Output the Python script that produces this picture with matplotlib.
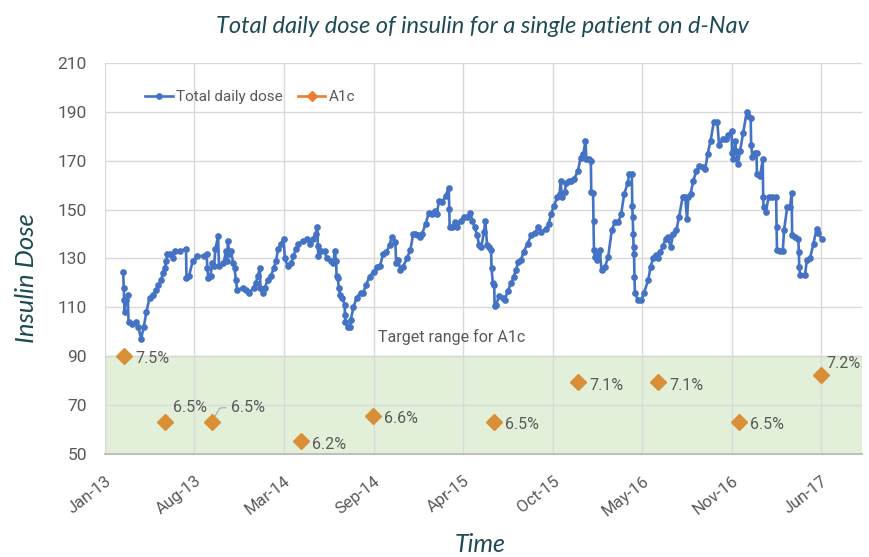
import matplotlib
matplotlib.use("Agg")
import matplotlib.pyplot as plt
import matplotlib.dates as mdates
from matplotlib.lines import Line2D
import numpy as np

# ── data ────────────────────────────────────────────────────────────────────
# days since 2013-01-01 and total daily insulin dose
tdd_day = [
    63, 64, 65, 66, 69, 73, 75, 82, 92, 97, 103, 109, 115, 122, 130, 137, 142, 148,
    152, 156, 160, 162, 169, 175, 180, 191, 204, 205, 211, 219, 229, 244, 250, 252,
    254, 259, 263, 267, 270, 276, 278, 288, 294, 296, 298, 301, 305, 310, 313, 316,
    319, 331, 339, 346, 356, 361, 365, 370, 371, 376, 381, 387, 395, 401, 406, 411,
    417, 423, 426, 432, 440, 445, 451, 456, 466, 476, 483, 489, 495, 499, 500, 501,
    508, 515, 520, 529, 535, 538, 541, 542, 545, 547, 550, 555, 560, 561, 562, 568,
    572, 574, 580, 587, 596, 602, 608, 616, 625, 633, 640, 646, 654, 661, 666, 674,
    676, 681, 685, 691, 700, 708, 714, 719, 724, 730, 734, 742, 749, 757, 762, 767,
    772, 779, 787, 794, 795, 796, 802, 807, 813, 821, 828, 836, 842, 847, 852, 858,
    862, 867, 873, 876, 880, 885, 889, 890, 893, 896, 897, 900, 907, 915, 920, 926,
    934, 940, 945, 950, 956, 962, 971, 979, 988, 994, 1002, 1013, 1018, 1024, 1030,
    1038, 1043, 1045, 1048, 1054, 1058, 1063, 1069, 1075, 1084, 1090, 1096, 1101,
    1103, 1108, 1113, 1114, 1118, 1119, 1120, 1122, 1126, 1130, 1133, 1137, 1145,
    1152, 1160, 1167, 1175, 1181, 1188, 1196, 1199, 1205, 1206, 1207, 1208, 1209,
    1210, 1211, 1212, 1219, 1226, 1232, 1242, 1247, 1253, 1259, 1264, 1269, 1275,
    1281, 1286, 1292, 1298, 1305, 1311, 1319, 1325, 1329, 1332, 1337, 1343, 1350,
    1356, 1365, 1370, 1375, 1382, 1389, 1397, 1401, 1409, 1416, 1422, 1429, 1430,
    1433, 1437, 1439, 1443, 1448, 1455, 1463, 1467, 1472, 1473, 1476, 1482, 1485,
    1486, 1493, 1499, 1500, 1501, 1506, 1512, 1519, 1529, 1530, 1531, 1538, 1544,
    1547, 1554, 1560, 1564, 1565, 1572, 1579, 1580, 1581, 1583, 1594, 1598, 1605,
    1613, 1620, 1624, 1631,
]
tdd_value = [
    124.5, 118, 113, 108, 113, 115, 104, 103, 104, 102, 97, 102, 108, 114, 115, 117, 119, 121,
    124, 126, 129, 132, 132, 130, 133, 133, 134, 122, 123, 129, 131, 131, 132, 126,
    122, 123, 128, 127, 134, 139, 127, 128, 133, 129, 137, 132, 133, 128, 126, 121,
    117, 118, 117, 116, 118, 120, 123, 126, 118, 116, 118, 121, 123, 126, 129, 134,
    136, 138, 130, 127, 128, 131, 134, 136, 137, 138, 136, 138, 140, 143, 135, 131,
    133, 133, 130, 129, 128, 133, 129, 123, 122, 118, 115, 114, 111, 107, 104, 102,
    102, 105, 110, 114, 116, 116, 119, 122.6, 124.6, 126.6, 127, 131.8, 132.7, 135.4, 138.8, 136.8,
    128, 129.3, 125.3, 126.6, 130, 133.6, 140, 139.9, 139.5, 138.8, 140, 144.2, 148.5, 148.2, 149.3, 148.2,
    153.4, 153, 155.7, 159, 150.3, 142.8, 142.8, 144.9, 142.8, 145.5, 146.9, 146.9, 148.6, 145.5, 142.8, 139.5,
    135.4, 134.7, 140.8, 145.5, 135.4, 134.7, 133.4, 126, 119.9, 119.2, 110.4, 111, 114.5, 113.8, 113.1, 116.5,
    119.9, 122.6, 125.3, 128.6, 129.3, 132.7, 136.1, 139.5, 140.4, 142.8, 140.8, 142.2, 144.2, 148.2, 151.6,
    155, 156.4, 161.8, 155, 157, 161, 161.8, 161.8, 162.4, 165.8, 171.2, 172.6, 178.2,
    170.5, 170.5, 169.9, 157, 156.6, 145.5, 133.4, 130.7, 129.3, 132, 133.4, 125.3, 126.6,
    130.7, 141.5, 144.9, 144.9, 148.2, 156.4, 161, 164.7, 164.7, 151.6, 146.9, 140.1, 134.7,
    132, 122.6, 115.8, 112.8, 112.8, 115.8, 121.2, 126.6, 130, 131.4, 130, 132.7, 135,
    138.1, 138.8, 134.7, 140, 141.5, 146.9, 155, 155, 146.2, 155, 156.4, 161.8, 165.8,
    167.8, 167.4, 166.5, 172.6, 178.2, 185.8, 185.8, 176.4, 178.7, 178.7, 180.7, 182.3, 173.2,
    170.5, 177.9, 173.9, 168.5, 173.9, 181.4, 189.9, 188.2, 187.4, 176.4, 171.5, 173.2, 173.2,
    164.7, 163.8, 170.5, 155, 150.9, 148.9, 155, 155, 155, 142.8, 133.4, 133, 133,
    141.8, 150.9, 150.9, 156.6, 139.5, 138.8, 138.1, 132.7, 126.6, 123.2, 123.2, 129.3, 130,
    136.1, 142.2, 140.4, 138.1,
]

# A1c measurements: day, plotted height, label
a1c_day = [65, 157, 262, 462, 624, 896, 1084, 1264, 1446, 1630]
a1c_value = [90.1, 63.2, 63.2, 55.4, 65.7, 63.0, 79.3, 79.3, 63.0, 82.3]
a1c_label = ["7.5%", "6.5%", "6.5%", "6.2%", "6.6%", "6.5%", "7.1%", "7.1%", "6.5%", "7.2%"]

target_low, target_high = 50, 90
y_ticks = list(range(50, 211, 20))

# ── style ───────────────────────────────────────────────────────────────────
BLUE = "#4472C4"
ORANGE = "#ED7D31"
DIAMOND = "#D98F38"
TEAL = "#1D4A55"
GRAY = "#595959"
GRID = "#D9D9D9"
NARROW = ["Liberation Sans Narrow", "Roboto", "DejaVu Sans"]
TITLE_FONT = ["Lato", "DejaVu Sans"]

base = np.datetime64("2013-01-01")
tdd_dates = base + np.array(tdd_day).astype("timedelta64[D]")
a1c_dates = base + np.array(a1c_day).astype("timedelta64[D]")

# tick every 201 days from 23-Jan-2013 (Excel auto axis)
tick_dates = base + (22 + 201 * np.arange(9)).astype("timedelta64[D]")
x_min = base + np.timedelta64(22, "D")
x_max = base + np.timedelta64(1722, "D")

fig = plt.figure(figsize=(8.69, 5.57), dpi=100)
ax = fig.add_axes([0.1208, 0.185, 0.8712, 0.702])

ax.axhspan(target_low, target_high, facecolor="#E2F0D9", edgecolor="#C9DFB8",
           linewidth=1.0, zorder=0)

ax.plot(tdd_dates, tdd_value, color=BLUE, linewidth=1.9, marker="o",
        markersize=3.8, zorder=3)
ax.plot(a1c_dates, a1c_value, linestyle="none", marker="D", markersize=8,
        color=DIAMOND, zorder=4)

# A1c labels; offsets in points from the diamond
offsets = [(8, -2), (6, 10), (14, 10), (8, -3), (8, -2),
           (8, -2), (8, -2), (8, -2), (8, -2), (4, 8)]
for d, v, lab, off in zip(a1c_dates, a1c_value, a1c_label, offsets):
    ax.annotate(lab, (d, v), xytext=off, textcoords="offset points",
                ha="left", va="center", fontsize=11.5, color=GRAY, family=NARROW)
# leader line on the second 6.5%
ax.annotate("", (a1c_dates[2], a1c_value[2]), xytext=(12, 10),
            textcoords="offset points",
            arrowprops=dict(arrowstyle="-", color="#A6A6A6", lw=0.8,
                            connectionstyle="angle,angleA=0,angleB=60,rad=2"))

ax.text(base + np.timedelta64(635, "D"), 98, "Target range for A1c",
        fontsize=11.5, color=GRAY, family=NARROW, va="center", ha="left")

ax.set_xlim(x_min, x_max)
ax.set_ylim(50, 210)
ax.set_yticks(y_ticks)
ax.xaxis.set_major_locator(matplotlib.ticker.FixedLocator(mdates.date2num(tick_dates)))
ax.xaxis.set_major_formatter(mdates.DateFormatter("%b-%y"))
plt.setp(ax.get_xticklabels(), rotation=38, ha="right", rotation_mode="anchor")

ax.grid(True, color=GRID, linewidth=1.0, zorder=1)
ax.set_axisbelow(True)
for s in ("top", "right", "left"):
    ax.spines[s].set_visible(False)
ax.spines["bottom"].set_color("#BFBFBF")
ax.spines["bottom"].set_linewidth(1.5)
ax.tick_params(length=0, labelcolor=GRAY, labelsize=12.5)
ax.tick_params(axis="y", pad=13)
ax.tick_params(axis="x", pad=14, labelsize=12)
for lab in ax.get_xticklabels() + ax.get_yticklabels():
    lab.set_family(NARROW)

handles = [
    Line2D([], [], color=BLUE, linewidth=1.9, marker="o", markersize=3.8),
    Line2D([], [], color=ORANGE, linewidth=1.9, marker="D", markersize=5),
]
leg = ax.legend(handles, ["Total daily dose", "A1c"], loc="upper left",
                bbox_to_anchor=(0.035, 0.965), ncol=2, frameon=False,
                handlelength=1.8, handletextpad=0.2, columnspacing=1.0,
                prop={"family": NARROW, "size": 11})
for t in leg.get_texts():
    t.set_color(GRAY)

fig.text(0.555, 0.952, "Total daily dose of insulin for a single patient on d-Nav",
         ha="center", va="center", fontsize=17, style="italic", color=TEAL,
         family=TITLE_FONT)
fig.text(0.031, 0.5, "Insulin Dose", rotation=90, ha="center", va="center",
         fontsize=18.5, style="italic", color=TEAL, family=TITLE_FONT)
fig.text(0.553, 0.022, "Time", ha="center", va="center", fontsize=18,
         style="italic", color=TEAL, family=TITLE_FONT)

fig.savefig("out.png", dpi=100, facecolor="white")
